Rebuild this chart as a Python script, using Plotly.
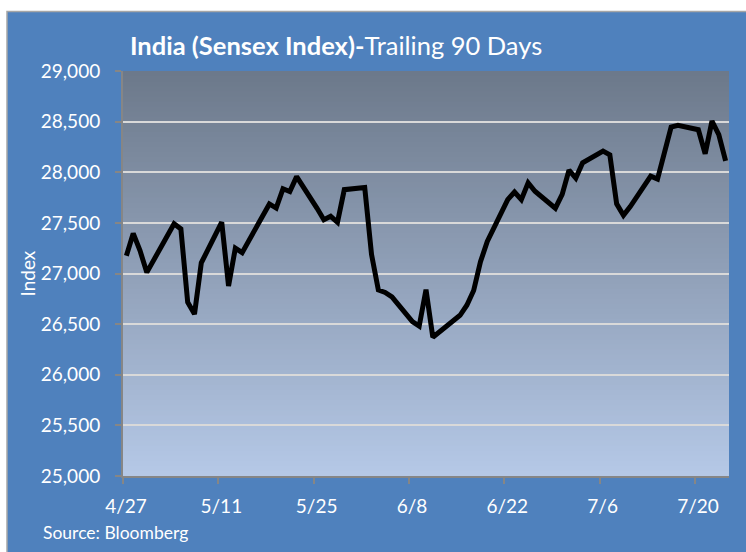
import plotly.graph_objects as go

# ---- data ----
dates = [
    "2015-04-27", "2015-04-28", "2015-04-29", "2015-04-30",
    "2015-05-04", "2015-05-05", "2015-05-06", "2015-05-07", "2015-05-08",
    "2015-05-11", "2015-05-12", "2015-05-13", "2015-05-14", "2015-05-15",
    "2015-05-18", "2015-05-19", "2015-05-20", "2015-05-21", "2015-05-22",
    "2015-05-25", "2015-05-26", "2015-05-27", "2015-05-28", "2015-05-29",
    "2015-06-01", "2015-06-02", "2015-06-03", "2015-06-04", "2015-06-05",
    "2015-06-08", "2015-06-09", "2015-06-10", "2015-06-11", "2015-06-12",
    "2015-06-15", "2015-06-16", "2015-06-17", "2015-06-18", "2015-06-19",
    "2015-06-22", "2015-06-23", "2015-06-24", "2015-06-25", "2015-06-26",
    "2015-06-29", "2015-06-30", "2015-07-01", "2015-07-02", "2015-07-03",
    "2015-07-06", "2015-07-07", "2015-07-08", "2015-07-09", "2015-07-10",
    "2015-07-13", "2015-07-14", "2015-07-15", "2015-07-16", "2015-07-17",
    "2015-07-20", "2015-07-21", "2015-07-22", "2015-07-23", "2015-07-24",
]
sensex = [
    27176, 27396, 27226, 27011,
    27491, 27440, 26717, 26599, 27105,
    27507, 26877, 27251, 27206, 27324,
    27687, 27646, 27837, 27810, 27957,
    27644, 27531, 27565, 27506, 27828,
    27849, 27188, 26837, 26813, 26768,
    26524, 26480, 26841, 26371, 26425,
    26587, 26687, 26832, 27116, 27316,
    27730, 27804, 27730, 27896, 27812,
    27645, 27781, 28021, 27942, 28093,
    28209, 28172, 27688, 27574, 27661,
    27961, 27933, 28198, 28446, 28463,
    28420, 28182, 28505, 28371, 28112,
]
tick_dates = ["2015-04-27", "2015-05-11", "2015-05-25", "2015-06-08",
              "2015-06-22", "2015-07-06", "2015-07-20"]
tick_labels = ["4/27", "5/11", "5/25", "6/8", "6/22", "7/6", "7/20"]
y_ticks = [25000, 25500, 26000, 26500, 27000, 27500, 28000, 28500, 29000]

# points sit at the middle of each day (Excel date axis)
x_vals = [d + " 12:00" for d in dates]

W, H = 746, 552
ML, MR, MT, MB = 123, 17, 71, 76
PW = W - ML - MR
PH = H - MT - MB

def px_to_paper_x(px):
    return (px - ML) / PW

def px_to_paper_y(py):
    return (H - MB - py) / PH

BLUE = "#4F81BD"
FONT = "Lato"

fig = go.Figure()
fig.add_trace(go.Scatter(
    x=x_vals, y=sensex, mode="lines",
    line=dict(color="black", width=5, shape="linear"),
    hoverinfo="skip", showlegend=False,
))

shapes = []
# outer blue chart area (white strip on top and left)
shapes.append(dict(
    type="rect", xref="paper", yref="paper", layer="below",
    x0=px_to_paper_x(7), x1=px_to_paper_x(W + 5),
    y0=px_to_paper_y(H + 5), y1=px_to_paper_y(11.5),
    fillcolor=BLUE, line=dict(color="#A6A6A6", width=1.5),
))
# vertical gradient in plot area (stacked from top so there are no seams)
top = (108, 120, 138)
bot = (181, 201, 231)
N = 80
for i in range(N):
    f = (i + 0.5) / N
    c = tuple(round(top[k] + (bot[k] - top[k]) * f) for k in range(3))
    shapes.append(dict(
        type="rect", xref="x domain", yref="y domain", layer="below",
        x0=0, x1=1, y0=0, y1=1 - i / N,
        fillcolor="rgb(%d,%d,%d)" % c, line=dict(width=0),
    ))

annotations = [
    dict(text="<b>India (Sensex Index)-</b>Trailing 90 Days",
         xref="paper", yref="paper", x=px_to_paper_x(128), y=px_to_paper_y(45),
         xanchor="left", yanchor="middle", showarrow=False,
         font=dict(family=FONT, size=25.5, color="white")),
    dict(text="Source: Bloomberg",
         xref="paper", yref="paper", x=px_to_paper_x(41), y=px_to_paper_y(532),
         xanchor="left", yanchor="middle", showarrow=False,
         font=dict(family=FONT, size=17.5, color="white")),
    dict(text="Index", textangle=-90,
         xref="paper", yref="paper", x=px_to_paper_x(27), y=0.5,
         xanchor="center", yanchor="middle", showarrow=False,
         font=dict(family=FONT, size=19, color="white")),
]

fig.update_layout(
    width=W, height=H,
    margin=dict(l=ML, r=MR, t=MT, b=MB, pad=0),
    paper_bgcolor="white",
    plot_bgcolor="rgb(150,166,190)",
    shapes=shapes,
    annotations=annotations,
    showlegend=False,
    font=dict(family=FONT, color="white"),
)
fig.update_xaxes(
    type="date", range=["2015-04-27", "2015-07-25"],
    tickmode="array", tickvals=tick_dates, ticktext=tick_labels,
    ticks="outside", ticklen=6, tickwidth=2, tickcolor="#868686",
    showline=True, linecolor="#868686", linewidth=2,
    showgrid=False, zeroline=False,
    ticklabelshift=3, ticklabelstandoff=6,
    tickfont=dict(family=FONT, size=19, color="white"),
)
fig.update_yaxes(
    range=[25000, 29000], tickmode="array", tickvals=y_ticks,
    tickformat=",d",
    ticks="outside", ticklen=6, tickwidth=2, tickcolor="#868686",
    showline=True, linecolor="#868686", linewidth=2,
    showgrid=True, gridcolor="#D9D9D9", gridwidth=2,
    zeroline=False, ticklabelstandoff=11,
    tickfont=dict(family=FONT, size=19, color="white"),
)

fig.write_html("out.html", config={"displayModeBar": False},
               post_script="document.body.style.margin='0px';")
